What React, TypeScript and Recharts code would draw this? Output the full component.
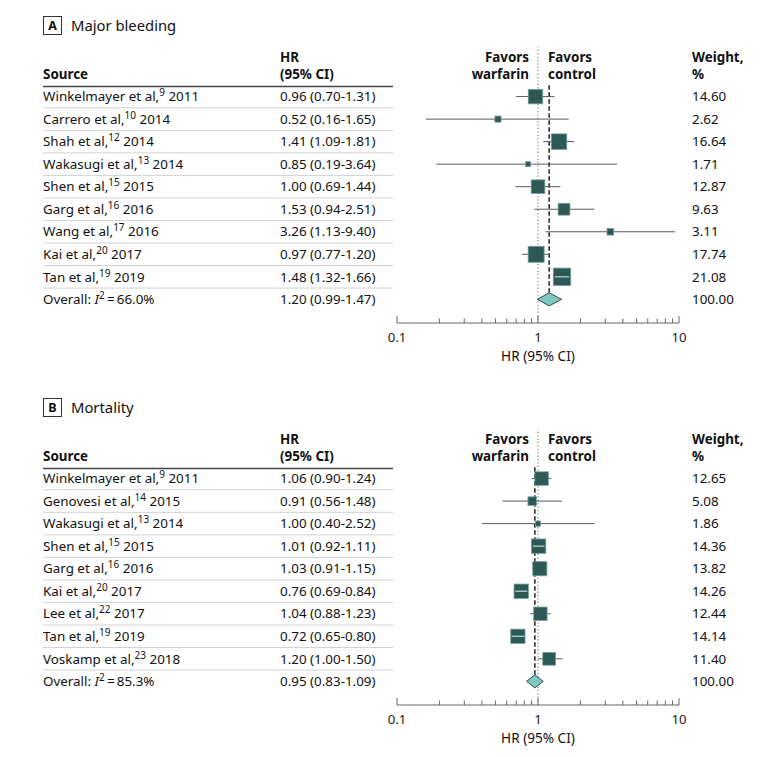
import React from 'react';
import { ScatterChart, Scatter, XAxis, YAxis, ReferenceLine } from 'recharts';

// ---------- Data ----------
const sourcesA = ['Winkelmayer et al,', 'Carrero et al,', 'Shah et al,', 'Wakasugi et al,', 'Shen et al,', 'Garg et al,', 'Wang et al,', 'Kai et al,', 'Tan et al,'];
const refsA = ['9', '10', '12', '13', '15', '16', '17', '20', '19'];
const yearsA = ['2011', '2014', '2014', '2014', '2015', '2016', '2016', '2017', '2019'];
const hrA = [0.96, 0.52, 1.41, 0.85, 1.0, 1.53, 3.26, 0.97, 1.48];
const loA = [0.7, 0.16, 1.09, 0.19, 0.69, 0.94, 1.13, 0.77, 1.32];
const hiA = [1.31, 1.65, 1.81, 3.64, 1.44, 2.51, 9.4, 1.2, 1.66];
const weightA = [14.6, 2.62, 16.64, 1.71, 12.87, 9.63, 3.11, 17.74, 21.08];
const overallA = { hr: 1.2, lo: 0.99, hi: 1.47, weight: 100, i2: '66.0%' };

const sourcesB = ['Winkelmayer et al,', 'Genovesi et al,', 'Wakasugi et al,', 'Shen et al,', 'Garg et al,', 'Kai et al,', 'Lee et al,', 'Tan et al,', 'Voskamp et al,'];
const refsB = ['9', '14', '13', '15', '16', '20', '22', '19', '23'];
const yearsB = ['2011', '2015', '2014', '2015', '2016', '2017', '2017', '2019', '2018'];
const hrB = [1.06, 0.91, 1.0, 1.01, 1.03, 0.76, 1.04, 0.72, 1.2];
const loB = [0.9, 0.56, 0.4, 0.92, 0.91, 0.69, 0.88, 0.65, 1.0];
const hiB = [1.24, 1.48, 2.52, 1.11, 1.15, 0.84, 1.23, 0.8, 1.5];
const weightB = [12.65, 5.08, 1.86, 14.36, 13.82, 14.26, 12.44, 14.14, 11.4];
const overallB = { hr: 0.95, lo: 0.83, hi: 1.09, weight: 100, i2: '85.3%' };

const axisTicks = [0.1, 0.2, 0.3, 0.4, 0.5, 0.6, 0.7, 0.8, 0.9, 1, 2, 3, 4, 5, 6, 7, 8, 9, 10];
const majorTicks = [0.1, 1, 10];

// ---------- Layout / style ----------
const FONT = '"Noto Sans", "Open Sans", sans-serif';
const W = 780;
const PANEL_H = 372;
const PLOT_LEFT = 397;
const PLOT_RIGHT = 679;
const PLOT_TOP = 47;
const PLOT_BOTTOM = 323;
const Y_TOP = -2.2;
const Y_BOTTOM = 10.05;
const PX_PER_DECADE = (PLOT_RIGHT - PLOT_LEFT) / 2;
const SQUARE_K = 3.8;
const DIAMOND_H = 0.29;
const TEXT_SIZE = 13.4;
const SQ_FILL = '#2c5855';
const SQ_STROKE = '#769f9c';
const DIAMOND_FILL = '#80c6c1';
const DIAMOND_STROKE = '#2d4d4b';
const COL_SOURCE = 43;
const COL_HR = 280;
const COL_WEIGHT = 692;
const TABLE_RIGHT = 393;

const Empty = () => <g />;

const Square = (props: any) => {
  const { cx, cy, payload } = props;
  const s = SQUARE_K * Math.sqrt(payload.weight);
  return <rect x={cx - s / 2} y={cy - s / 2} width={s} height={s} fill={SQ_FILL} stroke={SQ_STROKE} strokeWidth={0.8} />;
};

const fmt = (v: number) => v.toFixed(2);

const RowText = (props: any) => {
  const { cy, payload } = props;
  const base = cy + 4.7;
  const common = { fontFamily: FONT, fontSize: TEXT_SIZE, fill: '#111' };
  return (
    <g>
      {payload.sep && (
        <line x1={COL_SOURCE} x2={TABLE_RIGHT} y1={cy + 11.25} y2={cy + 11.25} stroke="#d2d2d2" strokeWidth={1} />
      )}
      {payload.overall ? (
        <text x={COL_SOURCE} y={base} {...common}>
          Overall: <tspan fontStyle="italic">I</tspan>
          <tspan dy={-5} fontSize={10}>2</tspan>
          <tspan dy={5}>{'\u2009=\u2009' + payload.i2}</tspan>
        </text>
      ) : (
        <text x={COL_SOURCE} y={base} {...common}>
          {payload.name}
          <tspan dy={-5} fontSize={10}>{payload.ref}</tspan>
          <tspan dy={5}>{' ' + payload.year}</tspan>
        </text>
      )}
      <text x={COL_HR} y={base} {...common}>
        {`${fmt(payload.hr)} (${fmt(payload.lo)}-${fmt(payload.hi)})`}
      </text>
      <text x={COL_WEIGHT} y={base} {...common}>
        {fmt(payload.weight)}
      </text>
    </g>
  );
};

const AxisTick = (props: any) => {
  const { x, y, payload } = props;
  const v = payload.value;
  const major = majorTicks.includes(v);
  return (
    <g>
      <line x1={x} x2={x} y1={y} y2={y - (major ? 7 : 4.5)} stroke="#666" strokeWidth={1} />
      {major && (
        <text x={x} y={y + 19} textAnchor="middle" fontFamily={FONT} fontSize={13.2} fill="#222">
          {String(v)}
        </text>
      )}
    </g>
  );
};

type PanelProps = {
  letter: string;
  title: string;
  sources: string[];
  refs: string[];
  years: string[];
  hr: number[];
  lo: number[];
  hi: number[];
  weight: number[];
  overall: { hr: number; lo: number; hi: number; weight: number; i2: string };
  top: number;
};

const Panel = (p: PanelProps) => {
  const n = p.hr.length;
  const studies = p.hr.map((h, i) => ({ x: h, y: i, weight: p.weight[i] }));
  const textRows = [
    ...p.hr.map((h, i) => ({
      x: 1, y: i, name: p.sources[i], ref: p.refs[i], year: p.years[i], hr: h, lo: p.lo[i], hi: p.hi[i], weight: p.weight[i], sep: true, overall: false, i2: '',
    })),
    { x: 1, y: n, name: '', ref: '', year: '', hr: p.overall.hr, lo: p.overall.lo, hi: p.overall.hi, weight: p.overall.weight, sep: false, overall: true, i2: p.overall.i2 },
  ];
  const inside = p.hr.map((h, i) => {
    const half = (SQUARE_K * Math.sqrt(p.weight[i])) / 2;
    return Math.log10(p.hi[i] / h) * PX_PER_DECADE <= half && Math.log10(h / p.lo[i]) * PX_PER_DECADE <= half;
  });
  const o = p.overall;
  const diamond = [
    { x: o.lo, y: n },
    { x: o.hr, y: n - DIAMOND_H },
    { x: o.hi, y: n },
    { x: o.hr, y: n + DIAMOND_H },
    { x: o.lo, y: n },
  ];
  const bold = { fontFamily: FONT, fontSize: TEXT_SIZE, fontWeight: 700, fill: '#111' };
  return (
    <div style={{ position: 'absolute', left: 0, top: p.top, width: W, height: PANEL_H }}>
      <ScatterChart
        width={W}
        height={PANEL_H}
        margin={{ top: PLOT_TOP, right: W - PLOT_RIGHT, bottom: 0, left: PLOT_LEFT }}
      >
        <XAxis
          type="number"
          dataKey="x"
          scale="log"
          domain={[0.1, 10]}
          ticks={axisTicks}
          interval={0}
          tickLine={false}
          tickSize={0}
          tickMargin={0}
          height={PANEL_H - PLOT_BOTTOM}
          axisLine={{ stroke: '#666', strokeWidth: 1 }}
          tick={<AxisTick />}
        />
        <YAxis type="number" dataKey="y" domain={[Y_TOP, Y_BOTTOM]} reversed hide width={0} />
        <ReferenceLine x={1} stroke="#666" strokeWidth={1} strokeDasharray="1.2 2.2" />
        <ReferenceLine
          segment={[{ x: o.hr, y: -0.5 }, { x: o.hr, y: n - DIAMOND_H }]}
          stroke="#222"
          strokeWidth={1.5}
          strokeDasharray="4.5 2.5"
        />
        {p.hr.map((h, i) => (
          <Scatter
            key={'ci' + i}
            data={[{ x: p.lo[i], y: i }, { x: p.hi[i], y: i }]}
            line={{ stroke: '#5a5a5a', strokeWidth: 1 }}
            lineType="joint"
            shape={Empty}
            isAnimationActive={false}
          />
        ))}
        <Scatter data={studies} shape={Square} isAnimationActive={false} />
        {p.hr.map((h, i) =>
          inside[i] ? (
            <Scatter
              key={'in' + i}
              data={[{ x: p.lo[i], y: i }, { x: p.hi[i], y: i }]}
              line={{ stroke: '#b4d0ce', strokeWidth: 1.3 }}
              lineType="joint"
              shape={Empty}
              isAnimationActive={false}
            />
          ) : null
        )}
        <Scatter
          data={diamond}
          line={{ stroke: DIAMOND_STROKE, strokeWidth: 1, fill: DIAMOND_FILL }}
          lineType="joint"
          shape={Empty}
          isAnimationActive={false}
        />
        <Scatter data={textRows} shape={RowText} isAnimationActive={false} />
      </ScatterChart>
      <svg
        width={W}
        height={PANEL_H}
        style={{ position: 'absolute', left: 0, top: 0, pointerEvents: 'none' }}
      >
        <rect x={43.5} y={16.5} width={18} height={18} fill="#fff" stroke="#333" strokeWidth={1} />
        <text x={52.5} y={30} textAnchor="middle" fontFamily={FONT} fontSize={12.5} fontWeight={700} fill="#111">
          {p.letter}
        </text>
        <text x={71} y={30.5} fontFamily={FONT} fontSize={14.8} fill="#111">
          {p.title}
        </text>
        <text x={COL_HR} y={62} {...bold}>HR</text>
        <text x={COL_HR} y={78.5} {...bold}>(95% CI)</text>
        <text x={COL_SOURCE} y={78.5} {...bold}>Source</text>
        <text x={529} y={62} textAnchor="end" {...bold}>Favors</text>
        <text x={529} y={78.5} textAnchor="end" {...bold}>warfarin</text>
        <text x={548} y={62} {...bold}>Favors</text>
        <text x={548} y={78.5} {...bold}>control</text>
        <text x={COL_WEIGHT} y={62} {...bold}>Weight,</text>
        <text x={COL_WEIGHT} y={78.5} {...bold}>%</text>
        <line x1={COL_SOURCE} x2={TABLE_RIGHT} y1={86.5} y2={86.5} stroke="#444" strokeWidth={1.6} />
        <text x={(PLOT_LEFT + PLOT_RIGHT) / 2} y={PLOT_BOTTOM + 38} textAnchor="middle" fontFamily={FONT} fontSize={13.6} fill="#111">
          HR (95% CI)
        </text>
      </svg>
    </div>
  );
};

export default function App() {
  return (
    <div style={{ position: 'absolute', left: 0, top: 0, width: W, height: 757, background: '#fff' }}>
      <Panel
        letter="A"
        title="Major bleeding"
        sources={sourcesA}
        refs={refsA}
        years={yearsA}
        hr={hrA}
        lo={loA}
        hi={hiA}
        weight={weightA}
        overall={overallA}
        top={0}
      />
      <Panel
        letter="B"
        title="Mortality"
        sources={sourcesB}
        refs={refsB}
        years={yearsB}
        hr={hrB}
        lo={loB}
        hi={hiB}
        weight={weightB}
        overall={overallB}
        top={382}
      />
    </div>
  );
}
